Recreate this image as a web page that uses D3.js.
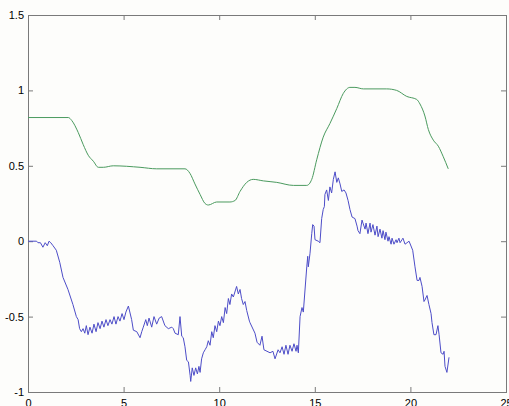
<!DOCTYPE html>
<html>
<head>
<meta charset="utf-8">
<script src="https://cdn.jsdelivr.net/npm/d3@7"></script>
<style>
  html, body { margin: 0; padding: 0; background: #fdfdfb; }
  #chart text { font-family: "Liberation Sans", Arial, sans-serif; font-size: 11px; fill: #000; }
</style>
</head>
<body>
<div id="chart"></div>
<script>
// tick values
const xTicks = [0, 5, 10, 15, 20, 25];
const yTicks = [-1, -0.5, 0, 0.5, 1, 1.5];

// green series (smooth)
const greenX = [0, 2.11, 2.29, 2.63, 2.89, 3.15, 3.42, 3.68, 3.94, 4.46, 5.86, 6.73, 8.21, 8.47, 8.73, 9.00, 9.26, 9.43, 9.87, 10.56, 10.83, 11.09, 11.44, 11.78, 12.31, 13.01, 13.88, 14.58, 14.84, 15.10, 15.44, 15.79, 16.15, 16.49, 16.84, 17.10, 17.54, 18.76, 19.28, 19.81, 20.33, 20.50, 20.76, 20.94, 21.20, 21.46, 21.72, 21.98];
const greenY = [0.82, 0.82, 0.80, 0.72, 0.64, 0.57, 0.53, 0.49, 0.49, 0.50, 0.49, 0.48, 0.48, 0.45, 0.38, 0.31, 0.25, 0.24, 0.26, 0.26, 0.27, 0.33, 0.39, 0.41, 0.40, 0.39, 0.37, 0.37, 0.41, 0.54, 0.69, 0.78, 0.88, 0.98, 1.02, 1.02, 1.01, 1.01, 1.00, 0.96, 0.94, 0.91, 0.83, 0.74, 0.67, 0.63, 0.56, 0.48];

// blue series (noisy)
const blueX = [0, 0.45, 0.52, 0.65, 0.78, 0.90, 1.01, 1.10, 1.19, 1.31, 1.48, 1.66, 1.83, 2.09, 2.35, 2.53, 2.62, 2.70, 2.79, 2.88, 2.97, 3.05, 3.14, 3.24, 3.35, 3.45, 3.56, 3.66, 3.77, 3.87, 3.97, 4.08, 4.18, 4.29, 4.39, 4.50, 4.60, 4.71, 4.81, 4.92, 5.02, 5.12, 5.25, 5.42, 5.51, 5.69, 5.86, 5.95, 6.03, 6.16, 6.24, 6.33, 6.47, 6.59, 6.73, 6.86, 6.99, 7.16, 7.34, 7.52, 7.60, 7.69, 7.86, 7.95, 8.04, 8.12, 8.21, 8.30, 8.39, 8.48, 8.51, 8.59, 8.68, 8.77, 8.86, 8.94, 9.00, 9.08, 9.17, 9.26, 9.35, 9.43, 9.52, 9.61, 9.69, 9.78, 9.87, 9.96, 10.04, 10.13, 10.22, 10.31, 10.39, 10.48, 10.56, 10.65, 10.74, 10.91, 11.00, 11.09, 11.17, 11.26, 11.35, 11.44, 11.58, 11.61, 11.87, 11.98, 12.13, 12.24, 12.34, 12.50, 12.66, 12.81, 12.92, 13.08, 13.18, 13.29, 13.39, 13.49, 13.60, 13.70, 13.81, 13.91, 14.02, 14.07, 14.14, 14.23, 14.33, 14.40, 14.58, 14.63, 14.66, 14.75, 14.84, 14.89, 14.96, 15.01, 15.18, 15.27, 15.36, 15.44, 15.50, 15.53, 15.62, 15.71, 15.79, 15.88, 15.97, 16.06, 16.15, 16.23, 16.32, 16.41, 16.53, 16.63, 16.74, 16.84, 16.95, 17.10, 17.21, 17.26, 17.36, 17.47, 17.52, 17.63, 17.68, 17.78, 17.89, 17.94, 18.04, 18.15, 18.25, 18.31, 18.41, 18.51, 18.57, 18.67, 18.72, 18.83, 18.88, 18.99, 19.04, 19.14, 19.25, 19.30, 19.40, 19.46, 19.56, 19.61, 19.72, 19.93, 20.12, 20.24, 20.35, 20.45, 20.50, 20.61, 20.71, 20.76, 20.87, 20.92, 20.97, 21.08, 21.13, 21.23, 21.34, 21.44, 21.50, 21.60, 21.71, 21.76, 21.81, 21.91, 22.02];
const blueY = [0, 0, -0.01, -0.01, -0.04, -0.01, -0.03, 0.00, -0.01, -0.03, -0.06, -0.14, -0.24, -0.32, -0.42, -0.50, -0.52, -0.58, -0.60, -0.58, -0.61, -0.56, -0.62, -0.57, -0.61, -0.55, -0.60, -0.54, -0.58, -0.53, -0.57, -0.52, -0.56, -0.52, -0.55, -0.50, -0.55, -0.50, -0.53, -0.48, -0.52, -0.47, -0.43, -0.52, -0.59, -0.60, -0.64, -0.60, -0.57, -0.52, -0.56, -0.51, -0.57, -0.50, -0.55, -0.51, -0.50, -0.56, -0.58, -0.57, -0.58, -0.61, -0.62, -0.50, -0.63, -0.64, -0.70, -0.79, -0.80, -0.89, -0.93, -0.84, -0.89, -0.84, -0.88, -0.83, -0.87, -0.78, -0.74, -0.72, -0.70, -0.66, -0.69, -0.60, -0.64, -0.56, -0.60, -0.53, -0.56, -0.50, -0.54, -0.44, -0.48, -0.38, -0.42, -0.35, -0.37, -0.30, -0.35, -0.32, -0.38, -0.42, -0.40, -0.46, -0.53, -0.54, -0.61, -0.67, -0.69, -0.63, -0.72, -0.73, -0.74, -0.73, -0.78, -0.72, -0.74, -0.70, -0.75, -0.69, -0.75, -0.69, -0.73, -0.68, -0.73, -0.69, -0.74, -0.50, -0.44, -0.47, -0.17, -0.10, -0.17, -0.08, 0.05, 0.11, 0.10, 0.01, 0.00, -0.01, 0.15, 0.21, 0.23, 0.31, 0.34, 0.27, 0.36, 0.32, 0.41, 0.46, 0.39, 0.42, 0.38, 0.33, 0.34, 0.32, 0.27, 0.21, 0.16, 0.15, 0.10, 0.07, 0.05, 0.14, 0.12, 0.08, 0.12, 0.05, 0.12, 0.06, 0.11, 0.04, 0.10, 0.03, 0.08, 0.02, 0.07, 0.01, 0.06, 0.00, 0.03, -0.02, 0.02, -0.02, 0.01, -0.01, 0.02, -0.01, 0.01, 0.02, -0.02, 0.00, -0.06, -0.17, -0.26, -0.26, -0.24, -0.30, -0.40, -0.39, -0.36, -0.39, -0.42, -0.48, -0.54, -0.62, -0.62, -0.56, -0.62, -0.74, -0.75, -0.73, -0.83, -0.87, -0.77];

const W = 509, H = 406;
const margin = { top: 15, right: 3, bottom: 14, left: 28 };
const width = W - margin.left - margin.right;
const height = H - margin.top - margin.bottom;

let svg = d3.select("#chart")
  .append("svg")
  .attr("width", W)
  .attr("height", H)
  .style("display", "block");

let g = svg.append("g")
  .attr("transform", "translate(" + margin.left + "," + margin.top + ")");

let x = d3.scaleLinear().domain([0, 25]).range([0, width]);
let y = d3.scaleLinear().domain([-1, 1.5]).range([height, 0]);

const axisColor = "#7a7a7a";
const fmt = d => String(d);

function styleAxis(sel) {
  sel.select(".domain").remove();
  sel.selectAll(".tick line").attr("stroke", axisColor);
}

// bottom labels sit partly below the picture edge, as in the original
g.append("g")
  .attr("transform", "translate(0," + height + ")")
  .call(d3.axisBottom(x).tickValues(xTicks).tickFormat(fmt).tickSizeInner(-5).tickSizeOuter(0).tickPadding(5))
  .call(styleAxis)
  .selectAll("text").attr("dy", "0.95em");

g.append("g")
  .call(d3.axisTop(x).tickValues(xTicks).tickFormat("").tickSizeInner(-5).tickSizeOuter(0))
  .call(styleAxis);

g.append("g")
  .call(d3.axisLeft(y).tickValues(yTicks).tickFormat(fmt).tickSizeInner(-5).tickSizeOuter(0).tickPadding(4))
  .call(styleAxis);

g.append("g")
  .attr("transform", "translate(" + width + ",0)")
  .call(d3.axisRight(y).tickValues(yTicks).tickFormat("").tickSizeInner(-5).tickSizeOuter(0))
  .call(styleAxis);

g.selectAll(".tick text")
  .attr("fill", "#000")
  .style("font-family", "'Liberation Sans', Arial, sans-serif")
  .style("font-size", "11px");

// box
g.append("rect")
  .attr("x", 0.5)
  .attr("y", 0.5)
  .attr("width", width)
  .attr("height", height)
  .attr("fill", "none")
  .attr("stroke", axisColor);

const green = greenX.map((v, i) => ({ x: v, y: greenY[i] }));
const blue = blueX.map((v, i) => ({ x: v, y: blueY[i] }));

g.append("path")
  .datum(green)
  .attr("fill", "none")
  .attr("stroke", "#4a9a5e")
  .attr("stroke-width", 1)
  .attr("d", d3.line().x(d => x(d.x)).y(d => y(d.y)).curve(d3.curveMonotoneX));

g.append("path")
  .datum(blue)
  .attr("fill", "none")
  .attr("stroke", "#4d4dc8")
  .attr("stroke-width", 1)
  .attr("stroke-linejoin", "round")
  .attr("d", d3.line().x(d => x(d.x)).y(d => y(d.y)));
</script>
</body>
</html>
